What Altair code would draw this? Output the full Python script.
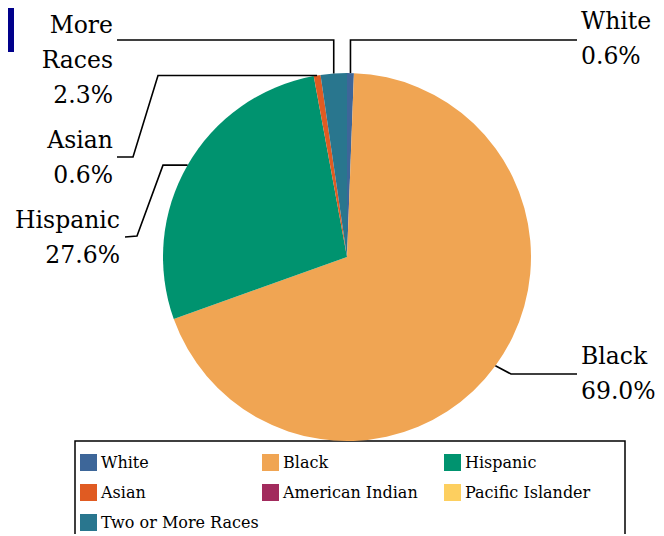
import math
import altair as alt
import pandas as pd

# ---------------- data ----------------
categories = ["White", "Black", "Hispanic", "Asian", "American Indian",
              "Pacific Islander", "Two or More Races"]
shares = [0.6, 69.0, 27.6, 0.6, 0.0, 0.0, 2.3]
colors = ["#3D6699", "#F0A553", "#00936F", "#E05B22", "#A22B5D",
          "#FDCF5F", "#29768E"]
label_names = {"White": "White", "Black": "Black", "Hispanic": "Hispanic",
               "Asian": "Asian", "Two or More Races": "Two or\nMore\nRaces"}

# ---------------- layout (plot px) ----------------
W, H = 648, 526
FONT = "DejaVu Serif"
CX, CY, R = 339, 249, 184
label_layout = {
    "White": dict(x=573, y=21, align="left", elbows=[("sx", 32), (569, 32)]),
    "Black": dict(x=573, y=356, align="left", elbows=[(503, 366), (569, 366)]),
    "Hispanic": dict(x=112, y=220, align="right", elbows=[(155, "sy"), (129, 228), (117, 229)]),
    "Asian": dict(x=105, y=140, align="right", elbows=[(150, "sy"), (125, 149), (109, 149)]),
    "Two or More Races": dict(x=105, y=-10, align="right", elbows=[("sx", 32), (109, 32)]),
}

# ---------------- tables ----------------
df = pd.DataFrame({"category": categories, "share": shares,
                   "idx": list(range(len(categories)))})

total = sum(shares)
cum = 0.0
mids = {}
for c, s in zip(categories, shares):
    mids[c] = (cum + s / 2) / total * 2 * math.pi
    cum += s

line_rows, text_rows = [], []
for c, s in zip(categories, shares):
    if c not in label_layout:
        continue
    lay = label_layout[c]
    a = mids[c]
    sx, sy = CX + R * math.sin(a), CY - R * math.cos(a)
    pts = [(sx, sy)]
    for ex, ey in lay["elbows"]:
        pts.append((sx if ex == "sx" else ex, sy if ey == "sy" else ey))
    for i, (px, py) in enumerate(pts):
        line_rows.append({"leader": c, "seq": i, "px": px, "py": py})
    text_rows.append({"category": c, "text": f"{label_names[c]}\n{s:.1f}%",
                      "px": lay["x"], "py": lay["y"], "align": lay["align"]})
lines_df = pd.DataFrame(line_rows)
text_df = pd.DataFrame(text_rows)

# ---------------- chart ----------------
pie = alt.Chart(df).mark_arc(radius=R).encode(
    x=alt.value(CX), y=alt.value(CY),
    theta=alt.Theta("share:Q", stack=True),
    order=alt.Order("idx:Q"),
    color=alt.Color("category:N",
                    scale=alt.Scale(domain=categories, range=colors),
                    sort=categories,
                    legend=alt.Legend(orient="none", legendX=72, legendY=446,
                                      direction="horizontal", columns=3,
                                      title=None, symbolType="square",
                                      symbolSize=289, symbolStrokeWidth=0,
                                      symbolOpacity=1,
                                      labelFont=FONT,
                                      labelFontSize=16, labelColor="black",
                                      labelOffset=4, columnPadding=3,
                                      rowPadding=13, gridAlign="all",
                                      padding=0, labelLimit=300)),
)

leaders = alt.Chart(lines_df).mark_line(color="black", strokeWidth=1.6).encode(
    x=alt.X("px:Q", scale=None), y=alt.Y("py:Q", scale=None),
    detail="leader:N", order="seq:Q",
)

def labels(al):
    return alt.Chart(text_df[text_df["align"] == al]).mark_text(
        font=FONT, fontSize=23.5, lineBreak="\n", lineHeight=35,
        baseline="alphabetic", align=al, color="black",
    ).encode(x=alt.X("px:Q", scale=None), y=alt.Y("py:Q", scale=None),
             text="text:N")

box = alt.Chart(pd.DataFrame({"a": [0]})).mark_rect(
    fillOpacity=0, stroke="black", strokeWidth=1.5).encode(
    x=alt.value(67), x2=alt.value(617), y=alt.value(433), y2=alt.value(560))

navy = alt.Chart(pd.DataFrame({"a": [0]})).mark_rect(color="#00008B").encode(
    x=alt.value(-8), x2=alt.value(6), y=alt.value(-3), y2=alt.value(44))

chart = alt.layer(navy, box, pie, leaders, labels("left"), labels("right")).properties(
    width=W, height=H, padding=0, autosize=alt.AutoSizeParams(type="none"),
).configure_view(stroke=None)

chart.save("out.html", embed_options={"renderer": "svg", "actions": False})
